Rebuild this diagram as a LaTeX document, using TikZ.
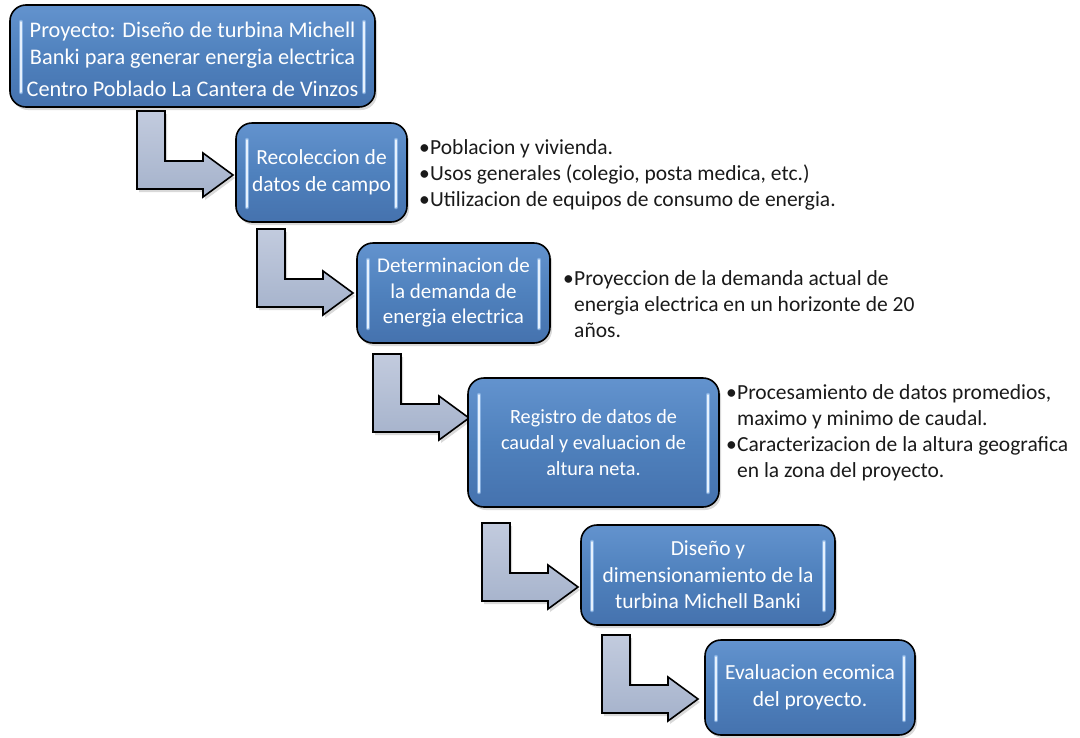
\documentclass[tikz,border=0pt]{standalone}
\usepackage{fontspec}
\setmainfont{Carlito}
\usetikzlibrary{shadows,calc}
\definecolor{boxblue}{HTML}{4F81BD}
\definecolor{boxtop}{HTML}{6393CE}
\definecolor{boxbot}{HTML}{4572AE}
\definecolor{hlcol}{HTML}{E6F1FD}
\definecolor{glowcol}{HTML}{9CC2EE}
\definecolor{arrtop}{HTML}{C2CBDE}
\definecolor{arrbot}{HTML}{A5B2CB}
\definecolor{txtcol}{HTML}{1A1A1A}
\tikzset{
  hl/.style={draw=hlcol, line width=2pt, line cap=round,
    preaction={draw=glowcol, line width=4.5pt, line cap=round, opacity=0.7}},
  box/.style={draw=black, line width=1.6pt, rounded corners=16pt,
    top color=boxtop, bottom color=boxbot, middle color=boxblue,
    drop shadow={shadow xshift=2pt, shadow yshift=-3pt, opacity=0.3},
    text=white, align=center, inner sep=0pt,
    font=\fontsize{21.5}{26.5}\selectfont,
    path picture={
      \draw[hl] ($(path picture bounding box.north west)+(11,17)$) -- ($(path picture bounding box.south west)+(11,-15)$);
      \draw[hl] ($(path picture bounding box.north east)+(-11,17)$) -- ($(path picture bounding box.south east)+(-11,-15)$);
    }},
  arrowshape/.style={draw=black, line width=1.6pt, line join=miter,
    top color=arrtop, bottom color=arrbot,
    drop shadow={shadow xshift=2pt, shadow yshift=-3pt, opacity=0.3}},
  bentarrow/.pic={\path[arrowshape] (-96,-64) -- (-68,-64) -- (-68,-14) -- (-30,-14) -- (-30,-22) -- (0,0) -- (-30,22) -- (-30,14) -- (-96,14) -- cycle;},
  list/.style={text=txtcol, align=left, inner sep=0pt, anchor=north west,
    font=\fontsize{21.5}{26}\selectfont}
}
\newcommand{\bul}{\makebox[11pt][l]{•}}
\newcommand{\nobul}{\hspace*{11pt}}
\begin{document}
\begin{tikzpicture}[x=1pt,y=-1pt]
\useasboundingbox (0,0) rectangle (1080,737);
% tips of the bent arrows
\coordinate (t1) at (233,175);
\coordinate (t2) at (353,293);
\coordinate (t3) at (469,418);
\coordinate (t4) at (578,587);
\coordinate (t5) at (698,699);
\pic at (t1) {bentarrow};
\pic at (t2) {bentarrow};
\pic at (t3) {bentarrow};
\pic at (t4) {bentarrow};
\pic at (t5) {bentarrow};
% boxes
\node[box, minimum width=365pt, minimum height=102pt, font=\fontsize{22.3}{27.5}\selectfont] (b1) at (192.5,56)
  {\rule{0pt}{22pt}Proyecto: Diseño de turbina Michell\\Banki para generar energia electrica\\[4pt]Centro Poblado La Cantera de Vinzos};
\node[box, minimum width=171pt, minimum height=99pt] (b2) at (321.5,172.5)
  {Recoleccion de\\datos de campo};
\node[box, minimum width=193pt, minimum height=100pt, font=\fontsize{21}{25.5}\selectfont] (b3) at (453.5,293)
  {Determinacion de\\la demanda de\\energia electrica};
\node[box, minimum width=251pt, minimum height=129pt, font=\fontsize{20.2}{26}\selectfont] (b4) at (593.5,442.5)
  {Registro de datos de\\caudal y evaluacion de\\altura neta.};
\node[box, minimum width=254pt, minimum height=100pt] (b5) at (708,575)
  {Diseño y\\dimensionamiento de la\\turbina Michell Banki};
\node[box, minimum width=210pt, minimum height=95pt] (b6) at (810,687.5)
  {Evaluacion ecomica\\del proyecto.};
% bullet lists
\node[list] (l1) at (419,139)
  {\bul Poblacion y vivienda.\\\bul Usos generales (colegio, posta medica, etc.)\\\bul Utilizacion de equipos de consumo de energia.};
\node[list] (l2) at (563,270)
  {\bul Proyeccion de la demanda actual de\\\nobul energia electrica en un horizonte de 20\\\nobul años.};
\node[list] (l3) at (726,384)
  {\bul Procesamiento de datos promedios,\\\nobul maximo y minimo de caudal.\\\bul Caracterizacion de la altura geografica\\\nobul en la zona del proyecto.};
\end{tikzpicture}
\end{document}
